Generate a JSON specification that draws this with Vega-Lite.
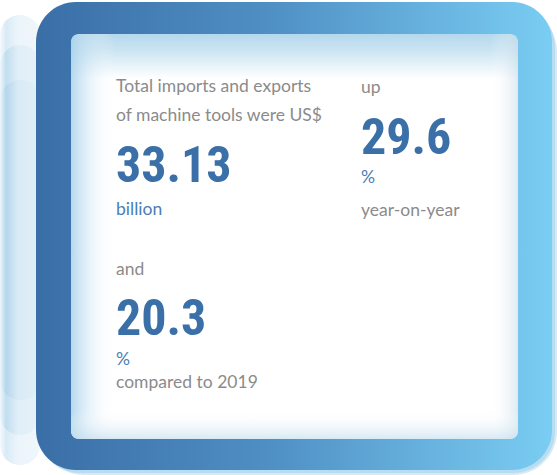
{
  "$schema": "https://vega.github.io/schema/vega-lite/v6.json",
  "width": 557,
  "height": 475,
  "autosize": {"type": "fit", "contains": "padding"},
  "padding": 0,
  "background": "#ffffff",
  "config": {"view": {"stroke": null}},
  "datasets": {
    "boxes": [
      {"part": "leftGlow", "x0": 0, "x1": 40, "y0": 15, "y1": 465},
      {"part": "leftGlow", "x0": 0, "x1": 40, "y0": 45, "y1": 435},
      {"part": "leftGlow", "x0": 0, "x1": 40, "y0": 80, "y1": 400},
      {"part": "shadow1", "x0": 40, "x1": 557, "y0": 8, "y1": 475},
      {"part": "shadow2", "x0": 38, "x1": 555, "y0": 5, "y1": 473},
      {"part": "frame", "x0": 36, "x1": 552, "y0": 2, "y1": 470},
      {"part": "panel", "x0": 71, "x1": 518, "y0": 34, "y1": 439},
      {"part": "shadeLeft", "x0": 71, "x1": 115, "y0": 34, "y1": 439},
      {"part": "shadeRight", "x0": 490, "x1": 518, "y0": 34, "y1": 439},
      {"part": "shadeBottom", "x0": 71, "x1": 518, "y0": 410, "y1": 439}
    ],
    "texts": [
      {"kind": "label", "text": "Total imports and exports", "x": 116, "y": 92},
      {"kind": "label", "text": "of machine tools were US$", "x": 116, "y": 121},
      {"kind": "big", "text": "33.13", "x": 116, "y": 182},
      {"kind": "unit", "text": "billion", "x": 116, "y": 215},
      {"kind": "label", "text": "and", "x": 116, "y": 275},
      {"kind": "big", "text": "20.3", "x": 116, "y": 335},
      {"kind": "unit", "text": "%", "x": 116, "y": 365},
      {"kind": "label", "text": "compared to 2019", "x": 116, "y": 388},
      {"kind": "label", "text": "up", "x": 361, "y": 93},
      {"kind": "big", "text": "29.6", "x": 361, "y": 154},
      {"kind": "unit", "text": "%", "x": 361, "y": 183},
      {"kind": "label", "text": "year-on-year", "x": 361, "y": 216}
    ]
  },
  "layer": [
    {
      "data": {"name": "boxes"},
      "transform": [{"filter": "datum.part === 'leftGlow'"}],
      "mark": {
        "type": "rect",
        "cornerRadius": 20,
        "opacity": 0.4,
        "fill": {
          "gradient": "linear", "x1": 0, "y1": 0, "x2": 1, "y2": 0,
          "stops": [
            {"offset": 0, "color": "#e8f3fa"},
            {"offset": 0.15, "color": "#9fcbe8"},
            {"offset": 0.45, "color": "#cfe5f3"},
            {"offset": 1, "color": "#d8eaf5"}
          ]
        }
      },
      "encoding": {
        "x": {"field": "x0", "type": "quantitative", "scale": {"domain": [0, 557], "nice": false, "zero": false}, "axis": null},
        "x2": {"field": "x1"},
        "y": {"field": "y0", "type": "quantitative", "scale": {"domain": [0, 475], "nice": false, "zero": false, "reverse": true}, "axis": null},
        "y2": {"field": "y1"}
      }
    },
    {
      "data": {"name": "boxes"},
      "transform": [{"filter": "datum.part === 'shadow1'"}],
      "mark": {"type": "rect", "cornerRadius": 44, "fill": "#d4eaf6"},
      "encoding": {
        "x": {"field": "x0", "type": "quantitative"},
        "x2": {"field": "x1"},
        "y": {"field": "y0", "type": "quantitative"},
        "y2": {"field": "y1"}
      }
    },
    {
      "data": {"name": "boxes"},
      "transform": [{"filter": "datum.part === 'shadow2'"}],
      "mark": {"type": "rect", "cornerRadius": 42, "fill": "#b8dcf0"},
      "encoding": {
        "x": {"field": "x0", "type": "quantitative"},
        "x2": {"field": "x1"},
        "y": {"field": "y0", "type": "quantitative"},
        "y2": {"field": "y1"}
      }
    },
    {
      "data": {"name": "boxes"},
      "transform": [{"filter": "datum.part === 'frame'"}],
      "mark": {
        "type": "rect",
        "cornerRadius": 40,
        "fill": {
          "gradient": "linear", "x1": 0, "y1": 0, "x2": 1, "y2": 0,
          "stops": [
            {"offset": 0, "color": "#3a6ea6"},
            {"offset": 0.45, "color": "#4f8fc4"},
            {"offset": 1, "color": "#7acdf3"}
          ]
        }
      },
      "encoding": {
        "x": {"field": "x0", "type": "quantitative"},
        "x2": {"field": "x1"},
        "y": {"field": "y0", "type": "quantitative"},
        "y2": {"field": "y1"}
      }
    },
    {
      "data": {"name": "boxes"},
      "transform": [{"filter": "datum.part === 'panel'"}],
      "mark": {
        "type": "rect",
        "cornerRadius": 8,
        "fill": {
          "gradient": "linear", "x1": 0, "y1": 0, "x2": 0, "y2": 1,
          "stops": [
            {"offset": 0, "color": "#b4d8ed"},
            {"offset": 0.04, "color": "#cbe4f2"},
            {"offset": 0.11, "color": "#ffffff"},
            {"offset": 1, "color": "#ffffff"}
          ]
        }
      },
      "encoding": {
        "x": {"field": "x0", "type": "quantitative"},
        "x2": {"field": "x1"},
        "y": {"field": "y0", "type": "quantitative"},
        "y2": {"field": "y1"}
      }
    },
    {
      "data": {"name": "boxes"},
      "transform": [{"filter": "datum.part === 'shadeLeft'"}],
      "mark": {
        "type": "rect",
        "cornerRadius": 8,
        "fill": {
          "gradient": "linear", "x1": 0, "y1": 0, "x2": 1, "y2": 0,
          "stops": [
            {"offset": 0, "color": "rgba(168,210,235,0.85)"},
            {"offset": 0.4, "color": "rgba(200,226,242,0.45)"},
            {"offset": 1, "color": "rgba(255,255,255,0)"}
          ]
        }
      },
      "encoding": {
        "x": {"field": "x0", "type": "quantitative"},
        "x2": {"field": "x1"},
        "y": {"field": "y0", "type": "quantitative"},
        "y2": {"field": "y1"}
      }
    },
    {
      "data": {"name": "boxes"},
      "transform": [{"filter": "datum.part === 'shadeRight'"}],
      "mark": {
        "type": "rect",
        "cornerRadius": 8,
        "fill": {
          "gradient": "linear", "x1": 0, "y1": 0, "x2": 1, "y2": 0,
          "stops": [
            {"offset": 0, "color": "rgba(255,255,255,0)"},
            {"offset": 1, "color": "rgba(200,220,232,0.6)"}
          ]
        }
      },
      "encoding": {
        "x": {"field": "x0", "type": "quantitative"},
        "x2": {"field": "x1"},
        "y": {"field": "y0", "type": "quantitative"},
        "y2": {"field": "y1"}
      }
    },
    {
      "data": {"name": "boxes"},
      "transform": [{"filter": "datum.part === 'shadeBottom'"}],
      "mark": {
        "type": "rect",
        "cornerRadius": 8,
        "fill": {
          "gradient": "linear", "x1": 0, "y1": 0, "x2": 0, "y2": 1,
          "stops": [
            {"offset": 0, "color": "rgba(255,255,255,0)"},
            {"offset": 1, "color": "rgba(190,218,236,0.6)"}
          ]
        }
      },
      "encoding": {
        "x": {"field": "x0", "type": "quantitative"},
        "x2": {"field": "x1"},
        "y": {"field": "y0", "type": "quantitative"},
        "y2": {"field": "y1"}
      }
    },
    {
      "data": {"name": "texts"},
      "transform": [{"filter": "datum.kind === 'label'"}],
      "mark": {"type": "text", "align": "left", "baseline": "alphabetic", "font": "Lato", "fontSize": 17.5, "color": "#8b8b8b"},
      "encoding": {
        "x": {"field": "x", "type": "quantitative"},
        "y": {"field": "y", "type": "quantitative"},
        "text": {"field": "text"}
      }
    },
    {
      "data": {"name": "texts"},
      "transform": [{"filter": "datum.kind === 'unit'"}],
      "mark": {"type": "text", "align": "left", "baseline": "alphabetic", "font": "Lato", "fontSize": 17.5, "color": "#4a7db6"},
      "encoding": {
        "x": {"field": "x", "type": "quantitative"},
        "y": {"field": "y", "type": "quantitative"},
        "text": {"field": "text"}
      }
    },
    {
      "data": {"name": "texts"},
      "transform": [{"filter": "datum.kind === 'big'"}],
      "mark": {"type": "text", "align": "left", "baseline": "alphabetic", "font": "Roboto Condensed, Open Sans Condensed, Noto Sans Condensed, Liberation Sans Narrow, DejaVu Sans Condensed, sans-serif", "fontWeight": "bold", "fontSize": 50, "color": "#3a6fa7"},
      "encoding": {
        "x": {"field": "x", "type": "quantitative"},
        "y": {"field": "y", "type": "quantitative"},
        "text": {"field": "text"}
      }
    }
  ]
}
